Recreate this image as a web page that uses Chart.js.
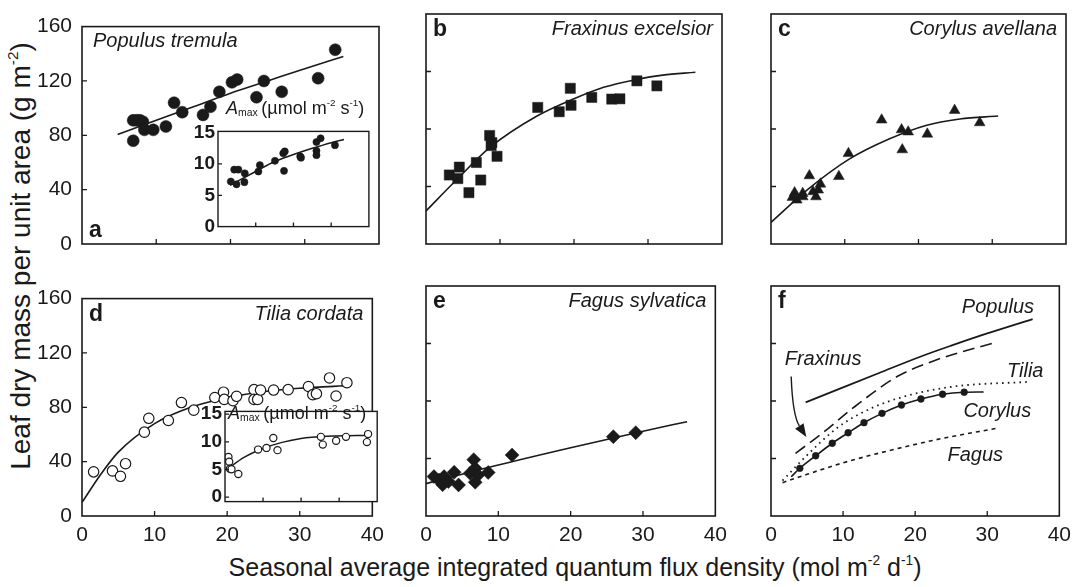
<!DOCTYPE html>
<html>
<head>
<meta charset="utf-8">
<script src="https://cdn.jsdelivr.net/npm/chart.js@4.4.1/dist/chart.umd.min.js"></script>
<style>
  body { margin: 0; background: #fff; }
  #fig { position: relative; width: 1088px; height: 587px; overflow: hidden;
         font-family: 'Liberation Sans', Arial, Helvetica, sans-serif; color: #1a1a1a; }
  #fig canvas { position: absolute; }
  .txt { position: absolute; white-space: nowrap; line-height: 1; }
  .txt sup { font-size: 55%; vertical-align: 0.8em; line-height: 0; }
  .txt sub { font-size: 58%; vertical-align: -0.2em; line-height: 0; }
  #ytitle { left: 21px; top: 256px; font-size: 28px; transform: translate(-50%, -50%) rotate(-90deg); }
  #xtitle { left: 575px; top: 567px; font-size: 25px; transform: translate(-50%, -50%); }
  .amax { font-size: 18px; }
</style>
</head>
<body>
<div id="fig">
  <div class="txt" id="ytitle">Leaf dry mass per unit area (g m<sup>-2</sup>)</div>
  <div class="txt" id="xtitle">Seasonal average integrated quantum flux density (mol m<sup>-2</sup> d<sup>-1</sup>)</div>
</div>
<script>
// axis ticks
const xTicks = [0, 10, 20, 30, 40];
const yTicks = [0, 40, 80, 120, 160];
const amaxTicks = [0, 5, 10, 15];

// (a) Populus tremula: LMA vs light, plus Amax inset
const populusLma = [[6.9,76],[6.9,91],[7.4,91],[7.8,91],[8.2,90],[8.4,84],[9.6,84],[11.3,86.5],[12.4,104],[13.5,97],
  [16.3,95],[17.3,101],[18.5,112],[20.2,119],[20.9,121],[23.5,108],[24.5,120],[26.9,112],[31.8,122],[34.1,143]];
const populusFit = [[4.8,80.5],[10,91],[15,101],[20,111],[25,120],[30,129],[35.2,138]];
const populusAmax = [[3.4,7.2],[4.9,6.75],[4.3,9.1],[5.4,9.1],[7.1,8.5],[7.0,7.1],[10.7,8.8],[11.1,9.8],[15.1,10.5],
  [17.5,8.9],[17.3,11.7],[17.7,12.0],[21.8,11.2],[22.0,11.0],[26.1,13.5],[27.2,14.1],[26.1,12.1],[26.1,11.4],[31.0,13.0]];
const populusAmaxFit = [[3.2,6.6],[10,8.8],[15,10.4],[20,11.5],[25,12.5],[30,13.4],[33.4,13.9]];

// (b) Fraxinus excelsior
const fraxinusLma = [[3.15,48],[4.5,53.5],[4.3,45.5],[5.8,35.7],[6.8,56.7],[7.4,44.5],[8.6,75.5],[8.9,70.5],[8.8,68.5],
  [9.6,61],[15.1,95],[18.0,92],[19.5,108.3],[19.6,96.5],[22.4,102],[25.1,100.8],[26.2,101],[28.5,113.5],[31.2,110]];
const fraxinusFit = [[0,23],[4,44],[8.6,67],[15,89],[20,101],[24,109],[28.5,114.5],[32,117.5],[36.4,119.5]];

// (c) Corylus avellana
const corylusLma = [[2.9,32.5],[3.2,35.7],[3.5,30.6],[4.3,35.2],[4.3,32.9],[5.2,47.5],[5.7,36.4],[6.1,32.9],[6.4,37.6],
  [6.7,41.7],[9.2,47],[10.5,63],[15,86.3],[17.7,79.5],[18.6,78],[17.8,65.6],[21.2,76.5],[24.9,93],[28.3,84.4]];
const corylusFit = [[0,15],[5,38],[10.6,59],[16,73],[21,82.5],[25.6,87],[30.8,89]];

// (d) Tilia cordata, plus Amax inset
const tiliaLma = [[1.6,32.5],[4.2,33.2],[5.3,29.2],[6.0,38.5],[8.6,61.7],[9.2,71.9],[11.9,70.3],[13.7,83.5],[15.4,77.9],
  [18.3,87.2],[19.5,91.1],[19.6,85.8],[20.8,84.9],[21.3,88.1],[23.7,93],[23.7,85.8],[24.2,85.8],[24.6,92.7],[26.4,92.7],
  [28.4,93],[31.2,95.3],[31.8,89.3],[32.3,90],[34.1,101.6],[35,88.3],[36.5,98.1]];
const tiliaFit = [[0,10],[2.5,30],[5,47],[10,68],[15,80],[20,87],[25,91.5],[30,94],[37,96]];
const tiliaAmax = [[0.9,7.25],[1.1,6.4],[1.3,5.15],[1.7,5.05],[3.5,4.2],[8.7,8.6],[10.9,8.9],[12.7,10.7],[13.8,8.5],
  [25.2,10.9],[25.7,9.5],[29.2,10.2],[31.8,10.9],[37.3,9.95],[37.6,11.4]];
const tiliaAmaxFit = [[0.4,5],[5,7.2],[10,8.8],[15,9.9],[20,10.6],[27,11],[38.3,11.2]];

// (e) Fagus sylvatica
const fagusLma = [[1.1,27.4],[1.8,25],[2.3,21.8],[2.5,27.4],[3.1,24],[3.9,30.5],[4.5,21.6],[6.1,29.7],[6.6,39.2],
  [6.8,33.2],[6.8,23.5],[7.2,28.5],[8.6,30.3],[11.9,42.4],[25.9,55.2],[29,58]];
const fagusFit = [[0,22.5],[10,35.5],[20,47.5],[30,59],[36.1,65.6]];

// (f) all five fits together
const populusCurve = [[4.8,79],[10,89.5],[15,99.5],[20.7,110.8],[25,118.5],[30,127],[36.3,137]];
const fraxinusCurve = [[3.4,43.6],[7.1,57.5],[11.6,76],[17.5,97],[22.9,108.5],[31,120.6]];
const tiliaCurve = [[1.6,24.6],[4.8,41.3],[9.4,62.1],[13.9,74.9],[18.4,83],[25.2,90],[36,93.4]];
const corylusCurve = [[2.8,27.3],[4.0,33.2],[6.2,41.9],[8.5,50.6],[10.7,57.9],[12.9,64.9],[15.4,71.4],[18.1,77.2],
  [20.8,81.4],[23.8,84.7],[26.8,86.1],[29.5,86.3]];
const corylusMarks = [[4.0,33.2],[6.2,41.9],[8.5,50.6],[10.7,57.9],[12.9,64.9],[15.4,71.4],[18.1,77.2],[20.8,81.4],[23.8,84.7],[26.8,86.1]];
const fagusCurve = [[1.6,23.2],[5,29],[10,37],[16,45],[23.8,54],[31.3,61]];

const INK = '#1a1a1a';
const FONT = "'Liberation Sans', Arial, Helvetica, sans-serif";
const xy = arr => arr.map(([x, y]) => ({ x, y }));

function pts(arr, style, r, fill) {
  return { data: xy(arr), pointStyle: style, pointRadius: r, pointHoverRadius: r,
    backgroundColor: fill || INK, borderColor: INK, borderWidth: fill ? 1.2 : 0.5, showLine: false };
}
function curve(arr, dash, width) {
  return { data: xy(arr), showLine: true, pointRadius: 0, borderColor: INK, borderWidth: width || 1.6,
    borderDash: dash || [], cubicInterpolationMode: 'monotone', fill: false };
}

// box, inward ticks, panel letters and other in-plot text
const frame = {
  id: 'frame',
  beforeDraw(chart, args, o) {
    if (!o.fill) return;
    const a = chart.chartArea, ctx = chart.ctx;
    ctx.save(); ctx.fillStyle = '#fff'; ctx.fillRect(a.left, a.top, a.width, a.height); ctx.restore();
  },
  afterDraw(chart, args, o) {
    const { ctx, chartArea: a, scales: { x, y } } = chart;
    ctx.save();
    ctx.strokeStyle = INK; ctx.lineWidth = o.lw || 1.6;
    ctx.strokeRect(a.left, a.top, a.width, a.height);
    const tl = o.tick || 5;
    ctx.lineWidth = 1.3;
    ctx.beginPath();
    x.ticks.forEach(t => {
      const p = x.getPixelForValue(t.value);
      if (p > a.left + 2 && p < a.right - 2) { ctx.moveTo(p, a.bottom); ctx.lineTo(p, a.bottom - tl); }
    });
    y.ticks.forEach(t => {
      const p = y.getPixelForValue(t.value);
      if (p > a.top + 2 && p < a.bottom - 2) { ctx.moveTo(a.left, p); ctx.lineTo(a.left + tl, p); }
    });
    ctx.stroke();
    ctx.fillStyle = INK;
    if (o.letter) {
      ctx.font = 'bold 23px ' + FONT;
      ctx.textAlign = 'left'; ctx.textBaseline = 'alphabetic';
      const by = o.letterBottom ? a.bottom - 7 : a.top + 22;
      ctx.fillText(o.letter, a.left + 7, by);
    }
    if (o.name) {
      ctx.font = 'italic 20px ' + FONT;
      ctx.textBaseline = 'alphabetic';
      if (o.nameLeft) { ctx.textAlign = 'left'; ctx.fillText(o.name, a.left + 11, a.top + 20); }
      else { ctx.textAlign = 'right'; ctx.fillText(o.name, a.right - 9, a.top + 21); }
    }
    (o.notes || []).forEach(n => {
      ctx.font = 'italic 20px ' + FONT;
      ctx.textAlign = n.align; ctx.textBaseline = 'alphabetic';
      ctx.fillText(n.text, x.getPixelForValue(n.x), y.getPixelForValue(n.y));
    });
    if (o.arrow) {
      const [s, c, e] = o.arrow.map(([vx, vy]) => [x.getPixelForValue(vx), y.getPixelForValue(vy)]);
      const ang = Math.atan2(e[1] - c[1], e[0] - c[0]);
      const hl = 13, hw = 5;
      const bx = e[0] - hl * Math.cos(ang), by = e[1] - hl * Math.sin(ang);
      ctx.lineWidth = 1.4;
      ctx.beginPath(); ctx.moveTo(s[0], s[1]); ctx.quadraticCurveTo(c[0], c[1], bx, by); ctx.stroke();
      ctx.beginPath();
      ctx.moveTo(e[0], e[1]);
      ctx.lineTo(bx + hw * Math.sin(ang), by - hw * Math.cos(ang));
      ctx.lineTo(bx - hw * Math.sin(ang), by + hw * Math.cos(ang));
      ctx.closePath(); ctx.fill();
    }
    ctx.restore();
  }
};
Chart.register(frame);

const fig = document.getElementById('fig');

function makeChart(box, pad, datasets, sc, frameOpts) {
  const cv = document.createElement('canvas');
  const w = box.w + pad.l + pad.r, h = box.h + pad.t + pad.b;
  cv.width = w; cv.height = h;
  cv.style.left = (box.x - pad.l) + 'px'; cv.style.top = (box.y - pad.t) + 'px';
  cv.style.width = w + 'px'; cv.style.height = h + 'px';
  fig.appendChild(cv);
  const tickFont = sc.bold ? { size: 19, weight: 'bold', family: FONT } : { size: 21, family: FONT };
  return new Chart(cv, {
    type: 'scatter',
    data: { datasets },
    options: {
      responsive: false, animation: false, events: [], devicePixelRatio: 1,
      layout: { padding: { top: pad.t, right: pad.r, left: 0, bottom: 0 } },
      plugins: { legend: { display: false }, tooltip: { enabled: false }, frame: frameOpts },
      scales: {
        x: {
          type: 'linear', min: sc.xmin, max: sc.xmax,
          afterBuildTicks: s => { s.ticks = xTicks.map(v => ({ value: v })); },
          afterFit: s => { s.height = pad.b; },
          grid: { display: false, drawTicks: false }, border: { display: false },
          ticks: { display: !!sc.showX, padding: 7, autoSkip: false, maxRotation: 0, color: INK, font: tickFont }
        },
        y: {
          type: 'linear', min: sc.ymin, max: sc.ymax,
          afterBuildTicks: s => { s.ticks = sc.yt.map(v => ({ value: v })); },
          afterFit: s => { s.width = pad.l; },
          grid: { display: false, drawTicks: false }, border: { display: false },
          ticks: { display: !!sc.showY, padding: sc.bold ? 3 : 10, autoSkip: false, color: INK, font: tickFont }
        }
      }
    }
  });
}

const mainPad = { l: 62, t: 10, r: 12, b: 36 };
const col = [{ x: 82, w: 297 }, { x: 426, w: 296 }, { x: 771, w: 295 }];
const row = [{ y: 14, h: 230 }, { y: 286, h: 230 }];
const box = (c, r) => ({ x: col[c].x, w: col[c].w, y: row[r].y, h: row[r].h });
const lmaScale = (showX, showY) => ({ xmin: 0, xmax: 40, ymin: 0, ymax: 160, yt: yTicks, showX, showY });

// top row
makeChart(box(0, 0), mainPad, [pts(populusLma, 'circle', 6), curve(populusFit)],
  lmaScale(false, true), { letter: 'a', letterBottom: true, name: 'Populus tremula', nameLeft: true });
makeChart(box(1, 0), mainPad, [pts(fraxinusLma, 'rect', 7.2), curve(fraxinusFit)],
  lmaScale(false, false), { letter: 'b', name: 'Fraxinus excelsior' });
makeChart(box(2, 0), mainPad, [pts(corylusLma, 'triangle', 6.2), curve(corylusFit)],
  lmaScale(false, false), { letter: 'c', name: 'Corylus avellana' });

// bottom row
makeChart(box(0, 1), mainPad, [pts(tiliaLma, 'circle', 5.2, '#fff'), curve(tiliaFit)],
  lmaScale(true, true), { letter: 'd', name: 'Tilia cordata' });
makeChart(box(1, 1), mainPad, [pts(fagusLma, 'rectRot', 7), curve(fagusFit)],
  lmaScale(true, false), { letter: 'e', name: 'Fagus sylvatica' });
makeChart(box(2, 1), mainPad, [
    pts(corylusMarks, 'circle', 3.4),
    curve(populusCurve, [], 1.8),
    curve(fraxinusCurve, [12, 6], 1.6),
    curve(tiliaCurve, [1.6, 4.2], 1.8),
    curve(corylusCurve, [], 1.6),
    curve(fagusCurve, [4, 4], 1.6)
  ],
  lmaScale(true, false), {
    letter: 'f',
    notes: [
      { text: 'Populus', x: 36.5, y: 141, align: 'right' },
      { text: 'Fraxinus', x: 1.9, y: 105, align: 'left' },
      { text: 'Tilia', x: 37.8, y: 96.5, align: 'right' },
      { text: 'Corylus', x: 36.1, y: 69, align: 'right' },
      { text: 'Fagus', x: 32.2, y: 38.5, align: 'right' }
    ],
    arrow: [[2.8, 97], [3.0, 70], [4.9, 55]]
  });

// Amax insets
const insetPad = { l: 30, t: 4, r: 4, b: 4 };
makeChart({ x: 218, y: 121, w: 151, h: 116 }, insetPad,
  [pts(populusAmax, 'circle', 3.6), curve(populusAmaxFit, [], 1.5)],
  { xmin: 0, xmax: 40, ymin: 0, ymax: 15.2, yt: amaxTicks, showX: false, showY: true, bold: true },
  { fill: true, lw: 1.4, tick: 4 });
makeChart({ x: 225, y: 401, w: 153, h: 111 }, insetPad,
  [pts(tiliaAmax, 'circle', 3.6, '#fff'), curve(tiliaAmaxFit, [], 1.5)],
  { xmin: 0, xmax: 40, ymin: -0.8, ymax: 15.5, yt: amaxTicks, showX: false, showY: true, bold: true },
  { fill: true, lw: 1.4, tick: 4 });

// inset titles
function amaxTitle(left, top) {
  const d = document.createElement('div');
  d.className = 'txt amax';
  d.style.left = left + 'px'; d.style.top = top + 'px';
  d.innerHTML = '<i>A</i><sub>max</sub>&thinsp;(&micro;mol m<sup>-2</sup> s<sup>-1</sup>)';
  fig.appendChild(d);
}
amaxTitle(226, 99);
amaxTitle(228, 404);
</script>
</body>
</html>
